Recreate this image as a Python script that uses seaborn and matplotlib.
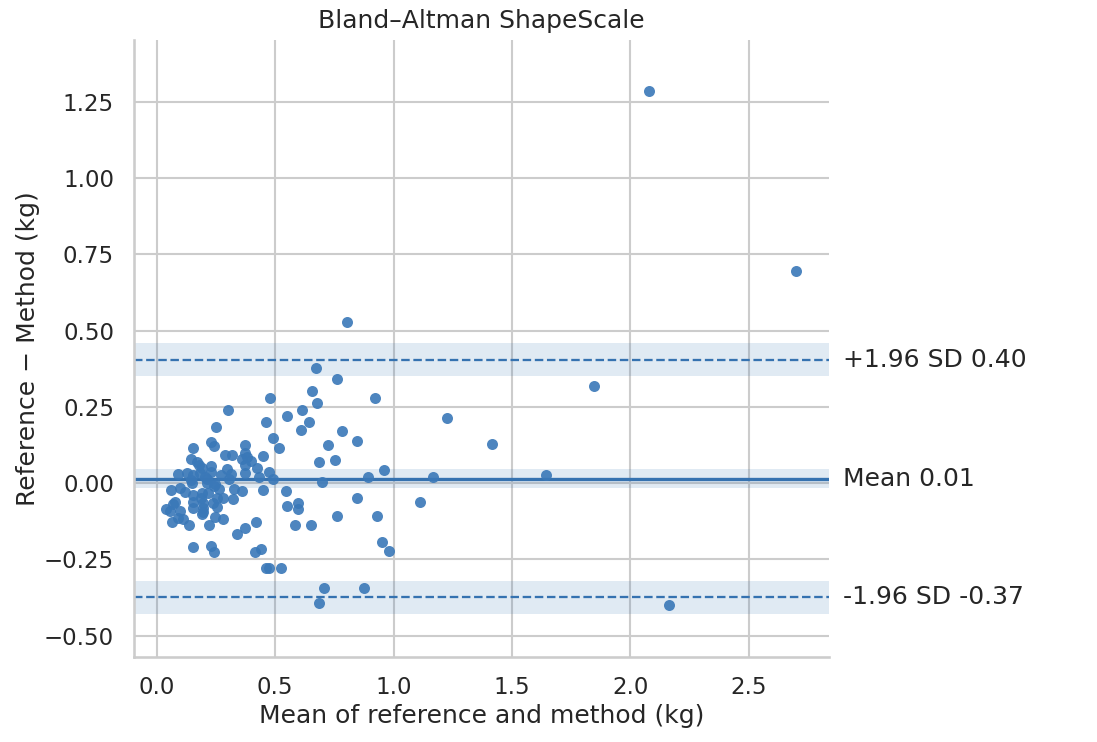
import numpy as np
import pandas as pd
import seaborn as sns
import matplotlib
matplotlib.use("Agg")
import matplotlib.pyplot as plt
import matplotlib.transforms as mtransforms

# mean of reference and method (kg)
mean_vals = [
    0.038, 0.055, 0.059, 0.063, 0.068, 0.076, 0.089, 0.089, 0.097, 0.097,
    0.110, 0.118, 0.127, 0.135, 0.144, 0.144, 0.148, 0.152, 0.152, 0.152,
    0.152, 0.152, 0.152, 0.169, 0.177, 0.182, 0.186, 0.190, 0.194, 0.194,
    0.194, 0.190, 0.211, 0.211, 0.215, 0.220, 0.228, 0.228, 0.228, 0.228,
    0.236, 0.241, 0.241, 0.245, 0.245, 0.249, 0.253, 0.253, 0.270, 0.279,
    0.279, 0.287, 0.300, 0.296, 0.313, 0.317, 0.321, 0.325, 0.338, 0.359,
    0.359, 0.372, 0.372, 0.380, 0.372, 0.372, 0.372, 0.414, 0.418, 0.422,
    0.431, 0.439, 0.448, 0.448, 0.460, 0.460, 0.473, 0.477, 0.473, 0.490,
    0.490, 0.515, 0.524, 0.545, 0.549, 0.549, 0.595, 0.595, 0.583, 0.612,
    0.608, 0.642, 0.650, 0.655, 0.671, 0.676, 0.684, 0.684, 0.697, 0.705,
    0.722, 0.752, 0.760, 0.760, 0.781, 0.802, 0.845, 0.845, 0.874, 0.891,
    0.921, 0.929, 0.950, 0.959, 0.980, 1.111, 1.166, 1.225, 1.415, 1.643,
    1.845, 2.078, 2.162, 2.699, 0.203, 0.190, 0.241, 0.397, 0.304, 0.262,
]
# reference - method (kg)
diff_vals = [
    -0.084, -0.091, -0.022, -0.127, -0.068, -0.061, 0.030, -0.114, -0.016, -0.091,
    -0.117, -0.029, 0.034, -0.137, 0.080, 0.011, 0.001, 0.116, 0.027, -0.039,
    -0.061, -0.081, -0.209, 0.070, 0.060, 0.034, -0.048, -0.032, -0.065, -0.081,
    -0.094, -0.101, 0.014, 0.001, -0.032, -0.137, 0.135, 0.057, 0.037, -0.206,
    -0.065, 0.122, -0.225, -0.002, -0.111, 0.184, -0.048, -0.078, 0.027, -0.048,
    -0.117, 0.093, 0.240, 0.047, 0.030, 0.093, -0.052, -0.019, -0.166, 0.080,
    -0.025, 0.125, 0.099, 0.086, 0.060, 0.034, -0.147, -0.225, -0.127, 0.050,
    0.020, -0.216, 0.089, -0.022, 0.201, -0.278, -0.278, 0.280, 0.037, 0.148,
    0.014, 0.116, -0.278, -0.025, -0.075, 0.221, -0.065, -0.084, -0.137, 0.240,
    0.175, 0.201, -0.137, 0.302, 0.378, 0.263, 0.070, -0.393, 0.004, -0.343,
    0.125, 0.076, 0.342, -0.107, 0.171, 0.529, 0.139, -0.048, -0.343, 0.020,
    0.280, -0.107, -0.193, 0.043, -0.222, -0.061, 0.020, 0.214, 0.129, 0.027,
    0.319, 1.286, -0.399, 0.696, 0.020, 0.050, -0.009, 0.073, 0.014, -0.019,
]

bias = 0.0145
upper_loa = 0.404
lower_loa = -0.374
bias_ci = 0.031
loa_ci = 0.054

df = pd.DataFrame({"mean": mean_vals, "diff": diff_vals})

sns.set_theme(style="whitegrid", context="notebook")
plt.rcParams["font.family"] = ["DejaVu Sans"]

fig, ax = plt.subplots(figsize=(1097 / 150, 742 / 150), dpi=150)
fig.subplots_adjust(left=0.122, right=0.756, top=0.946, bottom=0.115)

line_color = "#3572b0"

ax.axhspan(upper_loa - loa_ci, upper_loa + loa_ci, color=line_color, alpha=0.15, lw=0, zorder=1)
ax.axhspan(bias - bias_ci, bias + bias_ci, color=line_color, alpha=0.15, lw=0, zorder=1)
ax.axhspan(lower_loa - loa_ci, lower_loa + loa_ci, color=line_color, alpha=0.15, lw=0, zorder=1)

ax.axhline(bias, color=line_color, lw=1.6, zorder=2)
ax.axhline(upper_loa, color=line_color, lw=1.1, ls="--", zorder=2)
ax.axhline(lower_loa, color=line_color, lw=1.1, ls="--", zorder=2)

sns.scatterplot(data=df, x="mean", y="diff", ax=ax, color="#3a78b8", alpha=0.9,
                s=28, linewidth=0, zorder=3)

trans = mtransforms.blended_transform_factory(ax.transAxes, ax.transData)
ax.text(1.02, upper_loa, f"+1.96 SD {upper_loa:.2f}", transform=trans,
        va="center", ha="left", fontsize=12, color="#262626")
ax.text(1.02, bias, f"Mean {bias:.2f}", transform=trans,
        va="center", ha="left", fontsize=12, color="#262626")
ax.text(1.02, lower_loa, f"-1.96 SD {lower_loa:.2f}", transform=trans,
        va="center", ha="left", fontsize=12, color="#262626")

ax.set_xlim(-0.097, 2.84)
ax.set_ylim(-0.569, 1.453)
ax.set_title("Bland–Altman ShapeScale", fontsize=12)
ax.set_xlabel("Mean of reference and method (kg)", fontsize=12, labelpad=2)
ax.set_ylabel("Reference \u2212 Method (kg)", fontsize=12, labelpad=2)
sns.despine(ax=ax)

fig.savefig("out.png", dpi=150)
